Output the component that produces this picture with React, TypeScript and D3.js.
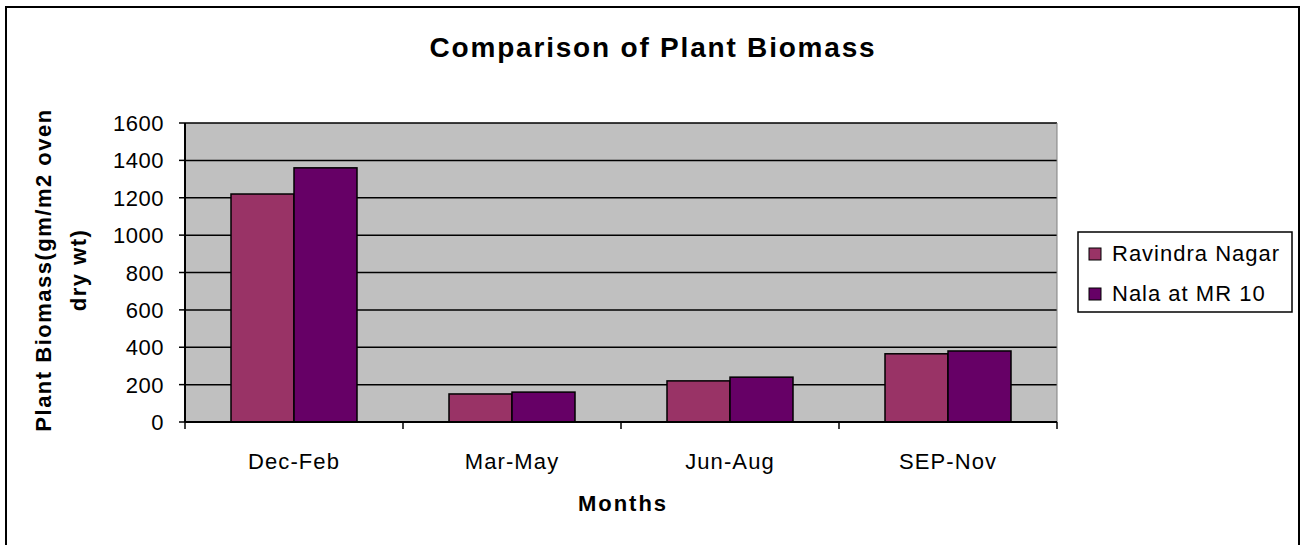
import * as d3 from "d3";
import React from "react";

// chart data
const months = ["Dec-Feb", "Mar-May", "Jun-Aug", "SEP-Nov"];
const seriesNames = ["Ravindra Nagar", "Nala at MR 10"];
const ravindraNagar = [1220, 150, 220, 365];
const nalaMR10 = [1360, 160, 240, 380];
const yTicks = [0, 200, 400, 600, 800, 1000, 1200, 1400, 1600];
const colors = ["#993366", "#660066"];

const font = "'Liberation Sans', Arial, sans-serif";

export default function App() {
  const width = 1302;
  const height = 545;
  // plot area
  const left = 185;
  const right = 1057;
  const top = 123;
  const bottom = 422;

  const x = d3.scaleBand<string>().domain(months).range([left, right]).paddingInner(0).paddingOuter(0);
  // inner scale for two bars inside a category (gap ~ 150% of bar width)
  const groupW = x.bandwidth() * (126 / 218);
  const x1 = d3
    .scaleBand<number>()
    .domain([0, 1])
    .range([0, groupW]);
  const y = d3.scaleLinear().domain([0, 1600]).range([bottom, top]);

  const series = [ravindraNagar, nalaMR10];
  const catEdges = d3.range(months.length + 1).map((i) => left + i * x.step());

  return (
    <svg
      width={width}
      height={height}
      style={{ position: "absolute", left: 0, top: 0, background: "#fff" }}
      fontFamily={font}
    >
      {/* outer chart border */}
      <rect x={6} y={7} width={1293} height={560} fill="none" stroke="#000" strokeWidth={2} />

      {/* title */}
      <text x={653} y={57} textAnchor="middle" fontSize={28} fontWeight="bold" letterSpacing={1.8}>
        Comparison of Plant Biomass
      </text>

      {/* plot background */}
      <rect x={left} y={top} width={right - left} height={bottom - top} fill="#c0c0c0" />

      {/* gridlines */}
      {yTicks.slice(1).map((t) => (
        <line key={"g" + t} x1={left} x2={right} y1={y(t)} y2={y(t)} stroke="#000" strokeWidth={1.5} />
      ))}
      <line x1={right} x2={right} y1={top} y2={bottom} stroke="#808080" strokeWidth={1} />

      {/* bars */}
      {months.map((m, i) => {
        const x0 = (x(m) as number) + (x.bandwidth() - groupW) / 2;
        return series.map((s, j) => (
          <rect
            key={m + j}
            x={x0 + (x1(j) as number)}
            y={y(s[i])}
            width={x1.bandwidth()}
            height={bottom - y(s[i])}
            fill={colors[j]}
            stroke="#000"
            strokeWidth={1.5}
          />
        ));
      })}

      {/* y axis */}
      <line x1={left} x2={left} y1={top} y2={bottom} stroke="#000" strokeWidth={2} />
      {yTicks.map((t) => (
        <g key={"y" + t}>
          <line x1={left - 6} x2={left} y1={y(t)} y2={y(t)} stroke="#000" strokeWidth={1.5} />
          <text x={164} y={y(t) + 8} textAnchor="end" fontSize={22} letterSpacing={0.5}>
            {t}
          </text>
        </g>
      ))}

      {/* x axis */}
      <line x1={left} x2={right} y1={bottom} y2={bottom} stroke="#000" strokeWidth={2} />
      {catEdges.map((cx, i) => (
        <line key={"xt" + i} x1={cx} x2={cx} y1={bottom} y2={bottom + 7} stroke="#000" strokeWidth={1.5} />
      ))}
      {months.map((m) => (
        <text
          key={"xl" + m}
          x={(x(m) as number) + x.bandwidth() / 2}
          y={469}
          textAnchor="middle"
          fontSize={22}
          letterSpacing={1.1}
        >
          {m}
        </text>
      ))}

      {/* axis titles */}
      <text x={623} y={511} textAnchor="middle" fontSize={22} fontWeight="bold" letterSpacing={2}>
        Months
      </text>
      <text
        transform="translate(0,270) rotate(-90)"
        textAnchor="middle"
        fontSize={22}
        fontWeight="bold"
        letterSpacing={1.5}
      >
        <tspan x={0} y={51}>Plant Biomass(gm/m2 oven</tspan>
        <tspan x={0} y={86}>dry wt)</tspan>
      </text>

      {/* legend */}
      <rect x={1078} y={232} width={214} height={80} fill="#fff" stroke="#000" strokeWidth={1.5} />
      {seriesNames.map((n, j) => (
        <g key={"lg" + n}>
          <rect x={1089} y={248 + j * 40} width={12} height={12} fill={colors[j]} stroke="#000" strokeWidth={1} />
          <text x={1112} y={261 + j * 40} fontSize={22} letterSpacing={1}>
            {n}
          </text>
        </g>
      ))}
    </svg>
  );
}
